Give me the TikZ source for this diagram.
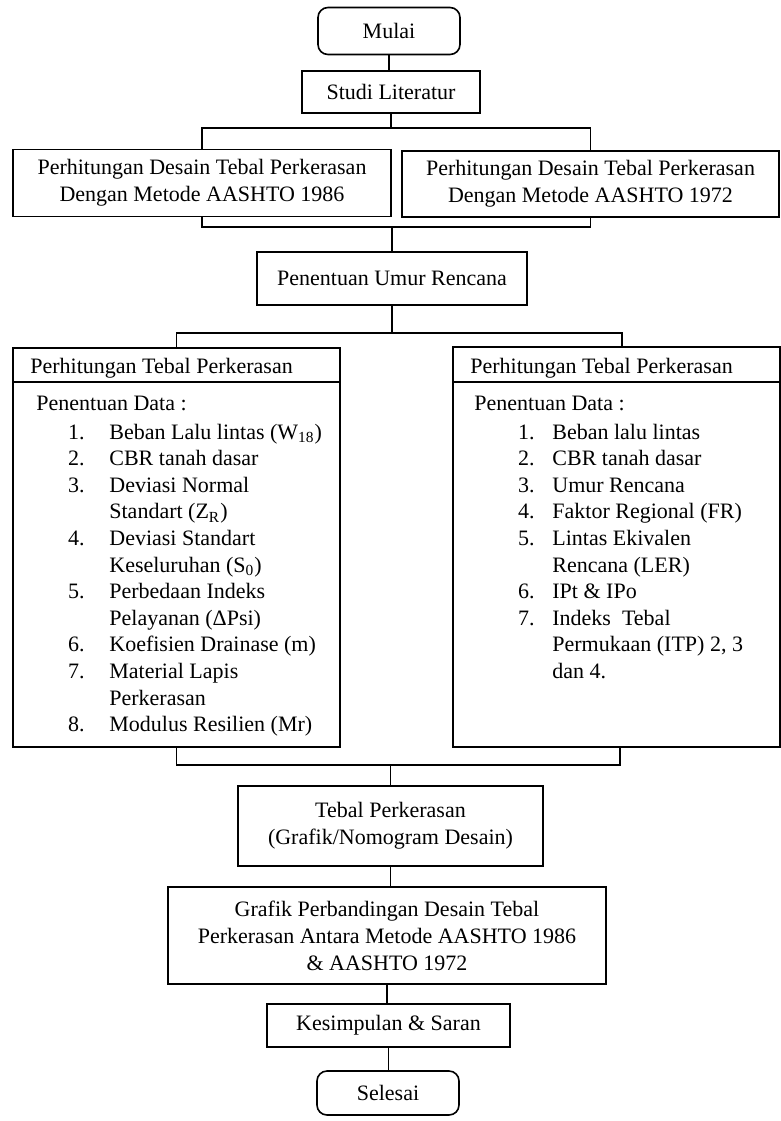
\documentclass[tikz,border=0pt]{standalone}
\usepackage{fontspec}
\setmainfont{Liberation Serif}
\begin{document}
\begin{tikzpicture}[x=0.5pt,y=-0.5pt,
  box/.style={draw,line width=0.8pt,inner sep=0,align=center,font=\fontsize{11}{13.5}\selectfont},
  rbox/.style={box,rounded corners=5pt},
  conn/.style={line width=0.8pt},
  txt/.style={inner sep=0,font=\fontsize{11}{13.3}\selectfont,anchor=base west},
  num/.style={inner sep=0,font=\fontsize{11}{13.3}\selectfont,anchor=base east}]
\useasboundingbox (0,0) rectangle (781,1121);

% boxes
\node[rbox,minimum width=71pt,minimum height=23.5pt] (mulai) at (389,31) {Mulai};
\node[box,minimum width=89pt,minimum height=21pt] (studi) at (391,92) {Studi Literatur};
\node[box,minimum width=189pt,minimum height=33.5pt] (p86) at (202,183) {Perhitungan Desain Tebal Perkerasan\\Dengan Metode AASHTO 1986};
\node[box,minimum width=188.5pt,minimum height=33pt] (p72) at (590.5,184) {Perhitungan Desain Tebal Perkerasan\\Dengan Metode AASHTO 1972};
\node[box,minimum width=135pt,minimum height=26.5pt] (umur) at (392,278.5) {Penentuan Umur Rencana};
\node[box,minimum width=163.5pt,minimum height=199.5pt] (bigL) at (176.5,547.5) {};
\node[box,minimum width=163.5pt,minimum height=200pt] (bigR) at (616.5,547) {};
\node[box,minimum width=152.5pt,minimum height=40pt] (tebal) at (390.5,826) {Tebal Perkerasan\\(Grafik/Nomogram Desain)};
\node[box,minimum width=219pt,minimum height=48.5pt] (grafik) at (387,935.5) {Grafik Perbandingan Desain Tebal\\Perkerasan Antara Metode AASHTO 1986\\\& AASHTO 1972};
\node[box,minimum width=121.5pt,minimum height=21.5pt] (kes) at (388.5,1025.5) {Kesimpulan \& Saran};
\node[rbox,minimum width=71pt,minimum height=22pt] (selesai) at (388,1093) {Selesai};

% header lines of big boxes
\draw[conn] ([yshift=-17.5pt]bigL.north west) -- ([yshift=-17.5pt]bigL.north east);
\draw[conn] ([yshift=-18pt]bigR.north west) -- ([yshift=-18pt]bigR.north east);

% junction coordinates
\coordinate (j1) at (390,128);
\coordinate (j2) at (391,227);
\coordinate (j3) at (392,333);
\coordinate (j4) at (389,765);
\coordinate (rt) at ([xshift=2.75pt]bigR.north);
\coordinate (rb) at ([xshift=1.75pt]bigR.south);

% connectors
\draw[conn] (mulai.south) -- (mulai.south |- studi.north);
\draw[conn] (studi.south) -- (studi.south |- j1);
\draw[conn] (p86.north) -- (p86.north |- j1) -- (p72.north |- j1) -- (p72.north);
\draw[conn] (p86.south) -- (p86.south |- j2) -- (p72.south |- j2) -- (p72.south);
\draw[conn] (umur.north |- j2) -- (umur.north);
\draw[conn] (umur.south) -- (umur.south |- j3);
\draw[conn] (bigL.north) -- (bigL.north |- j3) -- (rt |- j3) -- (rt);
\draw[conn] (bigL.south) -- (bigL.south |- j4) -- (rb |- j4) -- (rb);
\draw[conn] (tebal.north |- j4) -- (tebal.north);
\draw[conn] (tebal.south) -- (tebal.south |- grafik.north);
\draw[conn] (grafik.south) -- (grafik.south |- kes.north);
\draw[conn] (kes.south) -- (kes.south |- selesai.north);

% left big box content
\node[txt] (lh) at (30,373) {Perhitungan Tebal Perkerasan};
\node[txt] (ld) at (36,410) {Penentuan Data :};
\node[num] (ln1) at (85,439) {1.};
\node[txt] (lt1) at (109,439) {Beban Lalu lintas (W\textsubscript{18})};
\node[num] (ln2) at (85,465.6) {2.};
\node[txt] (lt2) at (109,465.6) {CBR tanah dasar};
\node[num] (ln3) at (85,492.2) {3.};
\node[txt] (lt3) at (109,492.2) {Deviasi Normal};
\node[txt] (lt3b) at (109,518.8) {Standart (Z\textsubscript{R})};
\node[num] (ln4) at (85,545.4) {4.};
\node[txt] (lt4) at (109,545.4) {Deviasi Standart};
\node[txt] (lt4b) at (109,572) {Keseluruhan (S\textsubscript{0})};
\node[num] (ln5) at (85,598.6) {5.};
\node[txt] (lt5) at (109,598.6) {Perbedaan Indeks};
\node[txt] (lt5b) at (109,625.2) {Pelayanan (ΔPsi)};
\node[num] (ln6) at (85,651.8) {6.};
\node[txt] (lt6) at (109,651.8) {Koefisien Drainase (m)};
\node[num] (ln7) at (85,678.4) {7.};
\node[txt] (lt7) at (109,678.4) {Material Lapis};
\node[txt] (lt7b) at (109,705) {Perkerasan};
\node[num] (ln8) at (85,731.6) {8.};
\node[txt] (lt8) at (109,731.6) {Modulus Resilien (Mr)};

% right big box content
\node[txt] (rh) at (470,373) {Perhitungan Tebal Perkerasan};
\node[txt] (rd) at (474,410) {Penentuan Data :};
\node[num] (rn1) at (535,439) {1.};
\node[txt] (rt1) at (552,439) {Beban lalu lintas};
\node[num] (rn2) at (535,465.6) {2.};
\node[txt] (rt2) at (552,465.6) {CBR tanah dasar};
\node[num] (rn3) at (535,492.2) {3.};
\node[txt] (rt3) at (552,492.2) {Umur Rencana};
\node[num] (rn4) at (535,518.8) {4.};
\node[txt] (rt4) at (552,518.8) {Faktor Regional (FR)};
\node[num] (rn5) at (535,545.4) {5.};
\node[txt] (rt5) at (552,545.4) {Lintas Ekivalen};
\node[txt] (rt5b) at (552,572) {Rencana (LER)};
\node[num] (rn6) at (535,598.6) {6.};
\node[txt] (rt6) at (552,598.6) {IPt \& IPo};
\node[num] (rn7) at (535,625.2) {7.};
\node[txt] (rt7) at (552,625.2) {Indeks\ \ Tebal};
\node[txt] (rt7b) at (552,651.8) {Permukaan (ITP) 2, 3};
\node[txt] (rt7c) at (552,678.4) {dan 4.};
\end{tikzpicture}
\end{document}
